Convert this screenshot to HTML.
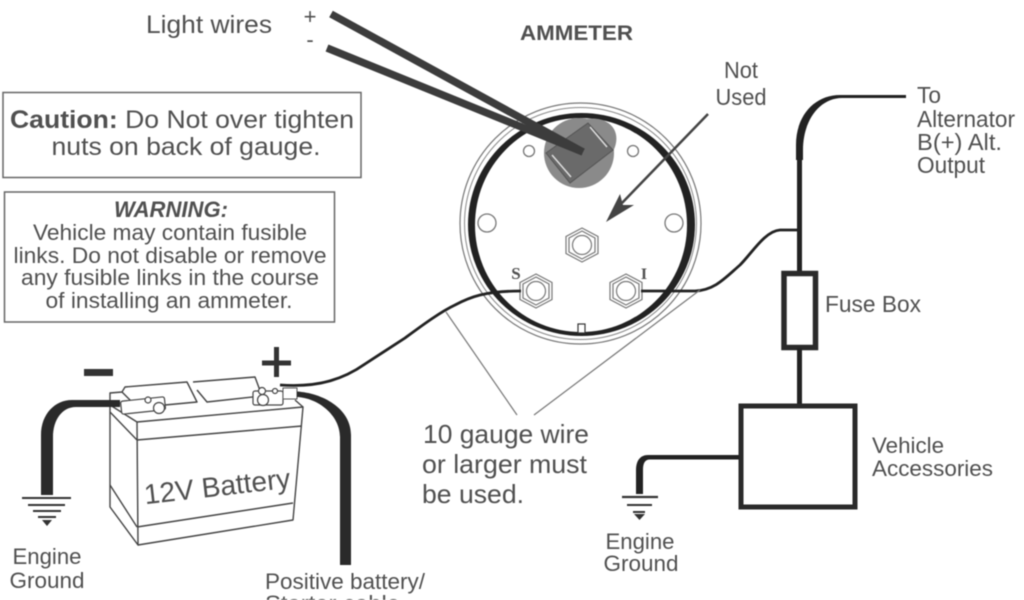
<!DOCTYPE html>
<html>
<head>
<meta charset="utf-8">
<style>
html,body{margin:0;padding:0;background:#fff;width:1024px;height:600px;overflow:hidden}
svg{display:block;filter:blur(.5px)}
text{font-family:"Liberation Sans",sans-serif;fill:#505050}
</style>
</head>
<body>
<svg width="1024" height="600" viewBox="0 0 1024 600" xmlns="http://www.w3.org/2000/svg">
<rect width="1024" height="600" fill="#fff"/>

<!-- Boxes -->
<rect x="3" y="92.500" width="358" height="85" fill="none" stroke="#666" stroke-width="1.500"/>
<rect x="4.500" y="192" width="330" height="130" fill="none" stroke="#666" stroke-width="1.500"/>
<text x="182" y="128" font-size="25" text-anchor="middle" textLength="344" lengthAdjust="spacingAndGlyphs"><tspan font-weight="bold">Caution:</tspan> Do Not over tighten</text>
<text x="186" y="155" font-size="25" text-anchor="middle" textLength="269" lengthAdjust="spacingAndGlyphs">nuts on back of gauge.</text>
<text x="171" y="217" font-size="22" font-style="italic" font-weight="bold" text-anchor="middle" textLength="114" lengthAdjust="spacingAndGlyphs">WARNING:</text>
<text x="170" y="240" font-size="22" text-anchor="middle" textLength="274" lengthAdjust="spacingAndGlyphs">Vehicle may contain fusible</text>
<text x="170" y="263" font-size="22" text-anchor="middle" textLength="313" lengthAdjust="spacingAndGlyphs">links. Do not disable or remove</text>
<text x="170" y="285" font-size="22" text-anchor="middle" textLength="298" lengthAdjust="spacingAndGlyphs">any fusible links in the course</text>
<text x="169" y="308" font-size="22" text-anchor="middle" textLength="247" lengthAdjust="spacingAndGlyphs">of installing an ammeter.</text>

<!-- Top labels -->
<text x="146" y="33" font-size="25" textLength="126" lengthAdjust="spacingAndGlyphs">Light wires</text>
<text x="310" y="24" font-size="22" text-anchor="middle">+</text>
<text x="310" y="47" font-size="22" text-anchor="middle">-</text>
<text x="520" y="40" font-size="21" font-weight="bold" textLength="113" lengthAdjust="spacingAndGlyphs">AMMETER</text>
<text x="741" y="78" font-size="23" text-anchor="middle" textLength="34" lengthAdjust="spacingAndGlyphs">Not</text>
<text x="741" y="105" font-size="23" text-anchor="middle" textLength="51" lengthAdjust="spacingAndGlyphs">Used</text>

<!-- Gauge -->
<circle cx="580.500" cy="223.500" r="120.500" fill="none" stroke="#777" stroke-width="1.200"/>
<circle cx="580.500" cy="223.500" r="116" fill="none" stroke="#888" stroke-width="1"/>
<path fill-rule="evenodd" fill="#222" d="M468,224.500 a113.500,111.500 0 1,0 227,0 a113.500,111.500 0 1,0 -227,0 Z M475,225 a106,107 0 1,0 212,0 a106,107 0 1,0 -212,0 Z"/>

<!-- Gray connector -->
<circle cx="579" cy="153" r="35" fill="#8a8a8a"/>
<ellipse cx="581" cy="148" rx="38" ry="26" fill="#8a8a8a" transform="rotate(-30 581 148)"/>
<polygon points="546,153 588,123 613,150 570,183" fill="#6a6a6a" stroke="#555"/>
<line x1="552" y1="155" x2="571" y2="177" stroke="#ddd" stroke-width="1.500"/>
<line x1="590" y1="127" x2="607" y2="147" stroke="#ddd" stroke-width="1.500"/>

<!-- Light wires -->
<line x1="331" y1="14" x2="583" y2="152" stroke="#3c3c3c" stroke-width="7.500"/>
<line x1="327" y1="48" x2="583" y2="152" stroke="#3c3c3c" stroke-width="7.500"/>

<!-- Holes -->
<g fill="#fff" stroke="#777" stroke-width="1.300">
<circle cx="529" cy="151" r="5.500"/>
<circle cx="633" cy="151" r="5.500"/>
<circle cx="487" cy="223" r="9"/>
<circle cx="674" cy="223" r="9"/>
</g>

<!-- Hex studs -->
<g fill="#fff" stroke="#777" stroke-width="1.200">
<polygon points="582,228 598,236.500 598,253.500 582,262 566,253.500 566,236.500"/>
<polygon points="582,231 595,238 595,252 582,259 569,252 569,238"/>
<circle cx="582" cy="245" r="9.500"/>
<polygon points="536,274 552,282.500 552,299.500 536,308 520,299.500 520,282.500"/>
<polygon points="536,277 549,284 549,298 536,305 523,298 523,284"/>
<circle cx="536" cy="291" r="9.500"/>
<polygon points="626,274 642,282.500 642,299.500 626,308 610,299.500 610,282.500"/>
<polygon points="626,277 639,284 639,298 626,305 613,298 613,284"/>
<circle cx="626" cy="291" r="9.500"/>
</g>
<text x="516" y="279" font-size="17" font-weight="bold" text-anchor="middle" style="font-family:'Liberation Serif',serif">S</text>
<text x="644" y="279" font-size="16" font-weight="bold" text-anchor="middle" style="font-family:'Liberation Serif',serif">I</text>
<rect x="578" y="324" width="7" height="9" fill="#fff" stroke="#333" stroke-width="1.200"/>

<!-- Not used arrow -->
<line x1="708" y1="114" x2="622" y2="203" stroke="#444" stroke-width="2.500"/>
<polygon points="606,222 620,194 623,205 634,205" fill="#444"/>

<!-- Signal wires -->
<path d="M280,385 C320,388 345,378 365,364 L405,338 C420,327 440,312 455,305 C470,297 485,291 521,291" fill="none" stroke="#222" stroke-width="2.800"/>
<path d="M641,291 H695 C715,290 725,278 740,265 C752,253 765,231 780,230 H798" fill="none" stroke="#222" stroke-width="2.800"/>

<!-- 10 gauge leader lines -->
<line x1="446" y1="312" x2="517" y2="415" stroke="#777" stroke-width="1.200"/>
<line x1="700" y1="290" x2="534" y2="415" stroke="#777" stroke-width="1.200"/>
<text x="423" y="443" font-size="26" textLength="166" lengthAdjust="spacingAndGlyphs">10 gauge wire</text>
<text x="422" y="473" font-size="26" textLength="165" lengthAdjust="spacingAndGlyphs">or larger must</text>
<text x="422" y="503" font-size="26" textLength="102" lengthAdjust="spacingAndGlyphs">be used.</text>

<!-- Alternator wire / fuse / accessories -->
<path d="M906,95 H840 C815,95 796,115 796,145 V160 H803 V150 C803,120 820,98 842,98 H906 Z" fill="#222"/>
<line x1="799.500" y1="155" x2="799.500" y2="273" stroke="#222" stroke-width="5"/>
<rect x="784" y="273.500" width="31.500" height="74" fill="#fff" stroke="#2a2a2a" stroke-width="5.500"/>
<line x1="799.500" y1="348" x2="799.500" y2="406" stroke="#222" stroke-width="5"/>
<rect x="741" y="406" width="114" height="101" fill="none" stroke="#2a2a2a" stroke-width="5"/>
<path d="M739,455 H648 C640,455 636,461 636,470 V494 H643 V470 C643,463 645,459.500 650,459.500 H739 Z" fill="#222"/>

<text x="917" y="103" font-size="23" textLength="24" lengthAdjust="spacingAndGlyphs">To</text>
<text x="917" y="127" font-size="23" textLength="98" lengthAdjust="spacingAndGlyphs">Alternator</text>
<text x="917" y="150" font-size="23" textLength="85" lengthAdjust="spacingAndGlyphs">B(+) Alt.</text>
<text x="917" y="173" font-size="23" textLength="68" lengthAdjust="spacingAndGlyphs">Output</text>
<text x="825" y="312" font-size="23" textLength="96" lengthAdjust="spacingAndGlyphs">Fuse Box</text>
<text x="872" y="453" font-size="22" textLength="72" lengthAdjust="spacingAndGlyphs">Vehicle</text>
<text x="872" y="476" font-size="22" textLength="121" lengthAdjust="spacingAndGlyphs">Accessories</text>

<!-- Right ground -->
<g stroke="#333">
<line x1="622" y1="497" x2="658" y2="497" stroke-width="2.200"/>
<line x1="627" y1="505" x2="652" y2="505" stroke-width="2"/>
<line x1="633" y1="512" x2="645" y2="512" stroke-width="2"/>
</g>
<polygon points="634,514 645,514 639.500,520" fill="#333"/>
<text x="640" y="549" font-size="22" text-anchor="middle" textLength="69" lengthAdjust="spacingAndGlyphs">Engine</text>
<text x="641" y="571" font-size="22" text-anchor="middle" textLength="75" lengthAdjust="spacingAndGlyphs">Ground</text>

<!-- Battery -->
<g fill="none" stroke="#444" stroke-width="1.400" stroke-linejoin="round">
<path d="M110,393 L110,507 L138,545 L137,422 L110,405 Z"/>
<path d="M137,422 L303,407 L293,520 L138,545"/>
<path d="M137,440 L302,426"/>
<path d="M137,527 L293,503"/>
<path d="M110,412 L137,440"/>
<path d="M110,485 L137,527"/>
<path d="M110,393 L122,392 L125,387 L187,382 L197,402 L165,405"/>
<path d="M193,382 L255,377 L262,396 L207,402 L197,390"/>
<path d="M122,392 L132,402"/>
<path d="M295,400 L303,407"/>
</g>
<!-- Battery terminals -->
<g fill="#fff" stroke="#444" stroke-width="1.200">
<rect x="121" y="399" width="44" height="13" rx="2" transform="rotate(-6 143 405)"/>
<circle cx="159" cy="408" r="5.500"/>
<circle cx="148" cy="400" r="3"/>
<rect x="253" y="391" width="30" height="14" rx="2"/>
<circle cx="263" cy="400" r="5.500"/>
<circle cx="262" cy="391" r="3.500"/>
<circle cx="275" cy="391" r="2.500"/>
</g>
<rect x="283" y="388" width="14" height="11" fill="#fff" stroke="#555" stroke-width="1"/>
<text x="217" y="496" font-size="28" text-anchor="middle" textLength="147" lengthAdjust="spacingAndGlyphs" transform="rotate(-6.500 217 485)">12V Battery</text>

<!-- Battery polarity -->
<rect x="84" y="369" width="29" height="7" fill="#333"/>
<rect x="262" y="360.500" width="29" height="5" fill="#333"/>
<rect x="274" y="347" width="5" height="30" fill="#333"/>

<!-- Battery cables -->
<path d="M120,400 H72 C55,400 41,414 41,435 V495 H53 V437 C53,420 62,407 76,407 H120 Z" fill="#2a2a2a"/>
<path d="M297,391.500 C322,393 351,408 351,435 V565 H340 V437 C340,415 318,398 297,397 Z" fill="#2a2a2a"/>

<!-- Left ground -->
<g stroke="#333">
<line x1="22" y1="498" x2="71" y2="498" stroke-width="2"/>
<line x1="28" y1="505" x2="65" y2="505" stroke-width="2"/>
<line x1="33" y1="511" x2="61" y2="511" stroke-width="2"/>
<line x1="38" y1="517" x2="56" y2="517" stroke-width="2"/>
</g>
<polygon points="42,520 52,520 47,526" fill="#333"/>
<text x="47" y="564" font-size="22" text-anchor="middle" textLength="69" lengthAdjust="spacingAndGlyphs">Engine</text>
<text x="47" y="588" font-size="22" text-anchor="middle" textLength="75" lengthAdjust="spacingAndGlyphs">Ground</text>

<text x="265" y="589" font-size="22" textLength="160" lengthAdjust="spacingAndGlyphs">Positive battery/</text>
<text x="265" y="611" font-size="22" textLength="135" lengthAdjust="spacingAndGlyphs">Starter cable</text>
</svg>
</body>
</html>
